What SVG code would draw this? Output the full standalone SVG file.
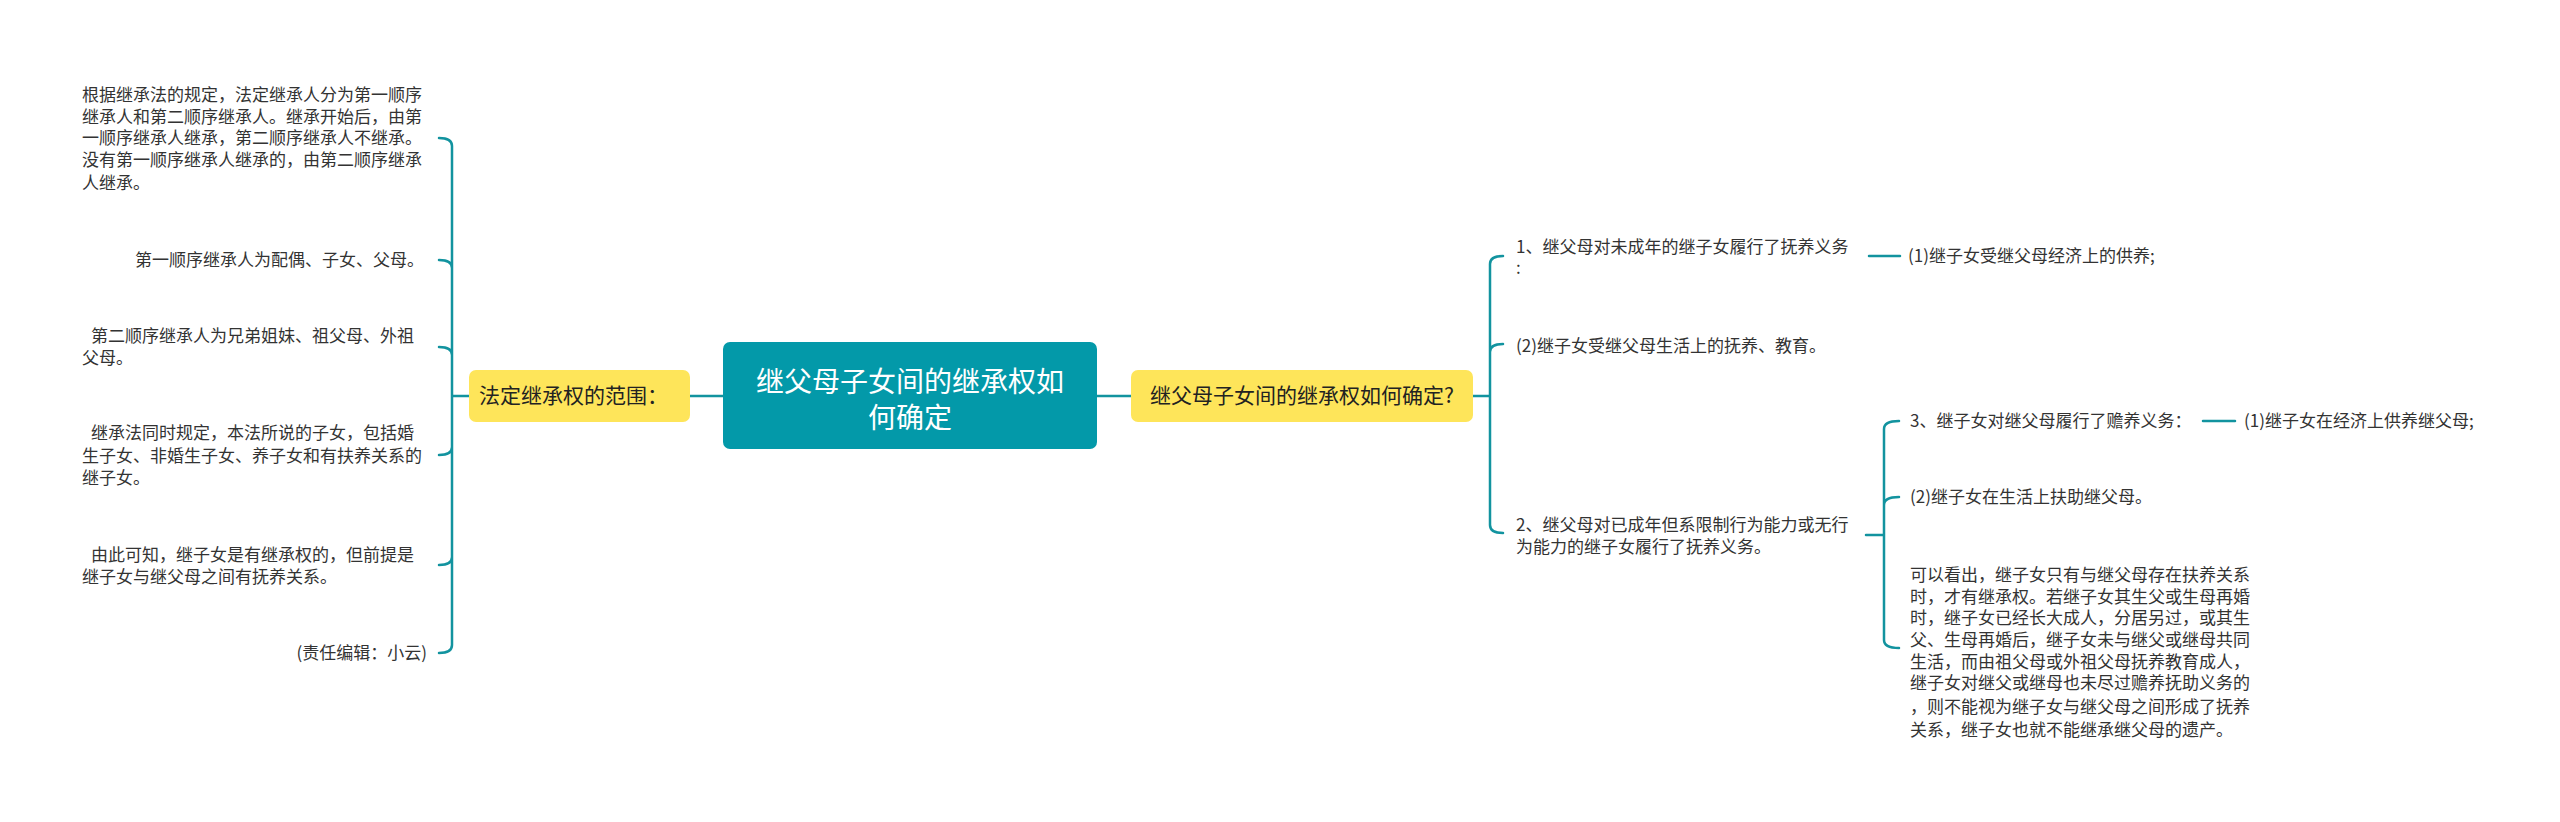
<svg xmlns="http://www.w3.org/2000/svg" width="2560" height="822" viewBox="0 0 2560 822">
<style>
.t{font-family:"Noto Sans CJK SC","Liberation Sans",sans-serif;font-size:17px;fill:#333}
.y{font-family:"Noto Sans CJK SC","Liberation Sans",sans-serif;font-size:21px;fill:#222}
.c{font-family:"Noto Sans CJK SC","Liberation Sans",sans-serif;font-size:28px;fill:#fff}
.l{fill:none;stroke:#12939f;stroke-width:2.5;stroke-linecap:round}
</style>
<rect width="2560" height="822" fill="#fff"/>
<g id="connectors">
<path class="l" d="M690,396 H723 M1097,396 H1131"/>
<path class="l" d="M469,396 H452 M452,146 V645 M439,138 Q452,138 452,146 M439,260 Q452,260 452,268 M439,347 Q452,347 452,355 M439,455 Q452,455 452,447 M439,565 Q452,565 452,557 M439,653 Q452,653 452,645"/>
<path class="l" d="M1473,396 H1490 M1490,264 V525 M1503,256 Q1490,256 1490,264 M1503,344 Q1490,344 1490,352 M1503,533 Q1490,533 1490,525"/>
<path class="l" d="M1869,256 H1900"/>
<path class="l" d="M1866,535 H1884 M1884,429 V640 M1899,421 Q1884,421 1884,429 M1899,497 Q1884,497 1884,505 M1899,648 Q1884,648 1884,640"/>
<path class="l" d="M2203,421 H2235"/>
</g>
<g id="center"><rect x="723" y="342" width="374" height="107" rx="7" fill="#0399a9"/>
<text class="c" x="910" y="392" text-anchor="middle">继父母子女间的继承权如</text>
<text class="c" x="910" y="428" text-anchor="middle">何确定</text></g>
<g id="left-topic"><rect x="469" y="370" width="221" height="52" rx="7" fill="#fee55a"/>
<text class="y" x="479" y="403">法定继承权的范围：</text></g>
<g id="right-topic"><rect x="1131" y="370" width="342" height="52" rx="7" fill="#fee55a"/>
<text class="y" x="1302" y="403" text-anchor="middle">继父母子女间的继承权如何确定?</text></g>
<g id="l1"><text class="t" x="82" y="101">根据继承法的规定，法定继承人分为第一顺序</text>
<text class="t" x="82" y="123">继承人和第二顺序继承人。继承开始后，由第</text>
<text class="t" x="82" y="144">一顺序继承人继承，第二顺序继承人不继承。</text>
<text class="t" x="82" y="166">没有第一顺序继承人继承的，由第二顺序继承</text>
<text class="t" x="82" y="189">人继承。</text></g>
<g id="l2"><text class="t" x="135" y="266">第一顺序继承人为配偶、子女、父母。</text></g>
<g id="l3"><text class="t" x="91" y="342">第二顺序继承人为兄弟姐妹、祖父母、外祖</text>
<text class="t" x="82" y="364">父母。</text></g>
<g id="l4"><text class="t" x="91" y="439">继承法同时规定，本法所说的子女，包括婚</text>
<text class="t" x="82" y="462">生子女、非婚生子女、养子女和有扶养关系的</text>
<text class="t" x="82" y="484">继子女。</text></g>
<g id="l5"><text class="t" x="91" y="561">由此可知，继子女是有继承权的，但前提是</text>
<text class="t" x="82" y="583">继子女与继父母之间有抚养关系。</text></g>
<g id="l6"><text class="t" x="427" y="659" text-anchor="end">(责任编辑：小云)</text></g>
<g id="r1"><text class="t" x="1516" y="253">1、继父母对未成年的继子女履行了抚养义务</text>
<text class="t" x="1516" y="274">:</text></g>
<g id="r1a"><text class="t" x="1908" y="262">(1)继子女受继父母经济上的供养;</text></g>
<g id="r2"><text class="t" x="1516" y="352">(2)继子女受继父母生活上的抚养、教育。</text></g>
<g id="r3"><text class="t" x="1516" y="531">2、继父母对已成年但系限制行为能力或无行</text>
<text class="t" x="1516" y="553">为能力的继子女履行了抚养义务。</text></g>
<g id="r3a"><text class="t" x="1910" y="427">3、继子女对继父母履行了赡养义务：</text></g>
<g id="r3a1"><text class="t" x="2244" y="427">(1)继子女在经济上供养继父母;</text></g>
<g id="r3b"><text class="t" x="1910" y="503">(2)继子女在生活上扶助继父母。</text></g>
<g id="r3c"><text class="t" x="1910" y="581">可以看出，继子女只有与继父母存在扶养关系</text>
<text class="t" x="1910" y="603">时，才有继承权。若继子女其生父或生母再婚</text>
<text class="t" x="1910" y="624">时，继子女已经长大成人，分居另过，或其生</text>
<text class="t" x="1910" y="646">父、生母再婚后，继子女未与继父或继母共同</text>
<text class="t" x="1910" y="668">生活，而由祖父母或外祖父母抚养教育成人，</text>
<text class="t" x="1910" y="689">继子女对继父或继母也未尽过赡养抚助义务的</text>
<text class="t" x="1910" y="713">，则不能视为继子女与继父母之间形成了抚养</text>
<text class="t" x="1910" y="736">关系，继子女也就不能继承继父母的遗产。</text></g>
</svg>
